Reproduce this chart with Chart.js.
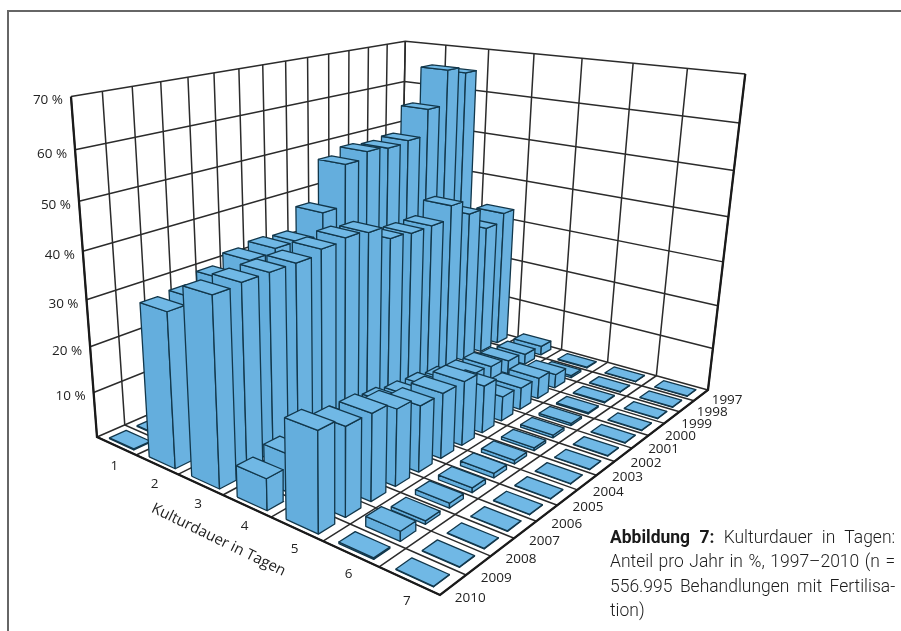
<!DOCTYPE html>
<html lang="de">
<head>
<meta charset="utf-8">
<title>Kulturdauer in Tagen</title>
<script src="https://cdn.jsdelivr.net/npm/chart.js@4"></script>
<style>
html, body { margin: 0; padding: 0; background: #fff; }
#wrap { position: relative; width: 901px; height: 631px; overflow: hidden; }
#frame { position: absolute; left: 7px; top: 10px; width: 900px; height: 640px; border: 2px solid #666; box-sizing: border-box; }
canvas { position: absolute; left: 0; top: 0; }
#caption { position: absolute; left: 610px; top: 525px; width: 310px; font: 300 19px/24.3px Roboto, sans-serif; color: #1c1c1c; transform: scaleX(0.92); transform-origin: left top; }
#caption div { text-align: justify; text-align-last: justify; white-space: nowrap; }
#caption div:last-child { text-align-last: left; }
#caption b { font-weight: 700; color: #1a1a1a; }
</style>
</head>
<body>
<div id="wrap">
  <div id="frame"></div>
  <canvas id="chart" width="901" height="631"></canvas>
  <div id="caption">
    <div><b>Abbildung 7:</b> Kulturdauer in Tagen:</div>
    <div>Anteil pro Jahr in %, 1997–2010 (n =</div>
    <div>556.995 Behandlungen mit Fertilisa-</div>
    <div>tion)</div>
  </div>
</div>
<script>
const days = ["1", "2", "3", "4", "5", "6", "7"];
const years = ["1997", "1998", "1999", "2000", "2001", "2002", "2003", "2004", "2005", "2006", "2007", "2008", "2009", "2010"];
const percentTicks = [10, 20, 30, 40, 50, 60, 70];
const axisTitle = "Kulturdauer in Tagen";

// Anteil in %, je Kulturdauer, Jahre 1997 bis 2010
const day1 = [0.2, 0.2, 0.2, 0.2, 0.2, 0.2, 0.2, 0.2, 0.2, 0.2, 0.2, 0.2, 0.2, 0.2];
const day2 = [65, 66.5, 58.5, 52.5, 52, 52.5, 51, 42, 37.3, 37.7, 37, 35, 33, 32.5];
const day3 = [33, 31, 36, 39.5, 36.5, 36.5, 37, 40, 40.6, 40, 39, 39, 39, 38.6];
const day4 = [2.2, 2.5, 3.2, 4.2, 4.7, 5.5, 6.5, 7, 8, 8.5, 9, 9, 8, 6.5];
const day5 = [0.2, 0.5, 3.2, 4.8, 5, 5.5, 10.5, 14, 14, 14, 16, 17.8, 18, 20];
const day6 = [0.1, 0.1, 0.2, 0.3, 0.5, 0.6, 0.6, 0.8, 1, 1, 1, 0.7, 2, 0.3];
const day7 = [0.1, 0.1, 0.1, 0.1, 0.1, 0.1, 0.1, 0.1, 0.1, 0.1, 0.1, 0.1, 0.1, 0.1];
const shares = [day1, day2, day3, day4, day5, day6, day7];

// Blickwinkel: Bodenecken und Fluchtpunkt der Senkrechten
const floorL = [97, 437], floorF = [440, 595], floorR = [708, 390], floorB = [400, 305];
const vanish = [335, 3553];
const rise = (71 - 97) / (335 - 71);

const BAR_FILL = { front: "#64aedd", side: "#6ab2e0", top: "#70b8e5" };
const BAR_LINE = "#12374b";
const GRID_LINE = "#2b2b2b";

// Perspektive: Boden als Homographie, Hoehe entlang des Fluchtpunkts
const homo = (function () {
  const [x0, y0] = floorL, [x1, y1] = floorF, [x2, y2] = floorR, [x3, y3] = floorB;
  const dx1 = x1 - x2, dx2 = x3 - x2, sx = x0 - x1 + x2 - x3;
  const dy1 = y1 - y2, dy2 = y3 - y2, sy = y0 - y1 + y2 - y3;
  const den = dx1 * dy2 - dx2 * dy1;
  const g = (sx * dy2 - dx2 * sy) / den;
  const h = (dx1 * sy - sx * dy1) / den;
  return { a: x1 - x0 + g * x1, b: x3 - x0 + h * x3, c: x0, d: y1 - y0 + g * y1, e: y3 - y0 + h * y3, f: y0, g, h };
})();

function project(u, v, pct) {
  const s = u / days.length, t = v / years.length, z = rise * pct / 70;
  const w = homo.g * s + homo.h * t + 1 + z;
  return {
    x: (homo.a * s + homo.b * t + homo.c + z * vanish[0]) / w,
    y: (homo.d * s + homo.e * t + homo.f + z * vanish[1]) / w,
  };
}

const datasets = [];

function addLine(points, color, width) {
  datasets.push({ data: points, borderColor: color, borderWidth: width, fill: false, showLine: true, pointRadius: 0, tension: 0 });
}

function addFace(points, color) {
  datasets.push({ data: points.concat(points[0]), borderColor: BAR_LINE, borderWidth: 1.3, backgroundColor: color, fill: "shape", showLine: true, pointRadius: 0, tension: 0, borderJoinStyle: "round" });
}

// Waende und Boden
for (let i = 0; i <= years.length; i++) addLine([project(0, i, 70), project(0, i, 0), project(days.length, i, 0)], GRID_LINE, 1.5);
for (let i = 0; i <= days.length; i++) addLine([project(i, years.length, 70), project(i, years.length, 0), project(i, 0, 0)], GRID_LINE, 1.5);
percentTicks.forEach(p => addLine([project(0, 0, p), project(0, years.length, p), project(days.length, years.length, p)], GRID_LINE, 1.5));
addLine([project(0, 0, 70), project(0, 0, 0), project(days.length, 0, 0), project(days.length, years.length, 0), project(days.length, years.length, 70)], "#1a1a1a", 2.3);

// Saeulen von hinten nach vorn, sonst verdecken sie sich falsch
shares.forEach((row, d) => {
  for (let y = 0; y < years.length; y++) {
    const v = years.length - 1 - y;
    const val = row[y];
    const u0 = d + 0.21, u1 = d + 0.83, v0 = v + 0.16, v1 = v + 0.76;
    addFace([project(u0, v0, 0), project(u1, v0, 0), project(u1, v0, val), project(u0, v0, val)], BAR_FILL.front);
    addFace([project(u1, v0, 0), project(u1, v1, 0), project(u1, v1, val), project(u1, v0, val)], BAR_FILL.side);
    addFace([project(u0, v0, val), project(u1, v0, val), project(u1, v1, val), project(u0, v1, val)], BAR_FILL.top);
  }
});

// Chart.js zeichnet den ersten Datensatz zuletzt
datasets.reverse();

const axisLabels = {
  id: "axisLabels",
  afterDraw(chart) {
    const ctx = chart.ctx;
    const sx = chart.scales.x, sy = chart.scales.y;
    ctx.save();
    ctx.fillStyle = "#222";
    ctx.textBaseline = "middle";
    ctx.font = '13.5px "Open Sans", sans-serif';
    ctx.textAlign = "right";
    percentTicks.forEach(p => {
      const q = project(0, 0, p);
      ctx.fillText(p + " %", sx.getPixelForValue(q.x) - 8, sy.getPixelForValue(q.y) + 4);
    });
    ctx.textAlign = "center";
    days.forEach((d, i) => {
      const q = project(i + 0.5, 0, 0);
      ctx.fillText(d, sx.getPixelForValue(q.x) - 2, sy.getPixelForValue(q.y) + 20);
    });
    years.forEach((y, i) => {
      const q = project(days.length, years.length - 0.5 - i, 0);
      ctx.fillText(y, sx.getPixelForValue(q.x) + 26 - 9 * i / 13, sy.getPixelForValue(q.y) + 5 + 8 * i / 13);
    });
    ctx.font = '15px "Open Sans", sans-serif';
    const mid = project(3.5, 0, 0);
    ctx.translate(sx.getPixelForValue(mid.x) - 28, sy.getPixelForValue(mid.y) + 34);
    ctx.rotate(26 * Math.PI / 180);
    ctx.fillText(axisTitle, 0, 0);
    ctx.restore();
  },
};

new Chart(document.getElementById("chart"), {
  type: "scatter",
  data: { datasets },
  plugins: [axisLabels],
  options: {
    responsive: false,
    animation: false,
    layout: { padding: 0 },
    plugins: { legend: { display: false }, tooltip: { enabled: false } },
    scales: {
      x: { type: "linear", min: 0, max: 901, display: false },
      y: { type: "linear", min: 0, max: 631, reverse: true, display: false },
    },
  },
});
</script>
</body>
</html>
